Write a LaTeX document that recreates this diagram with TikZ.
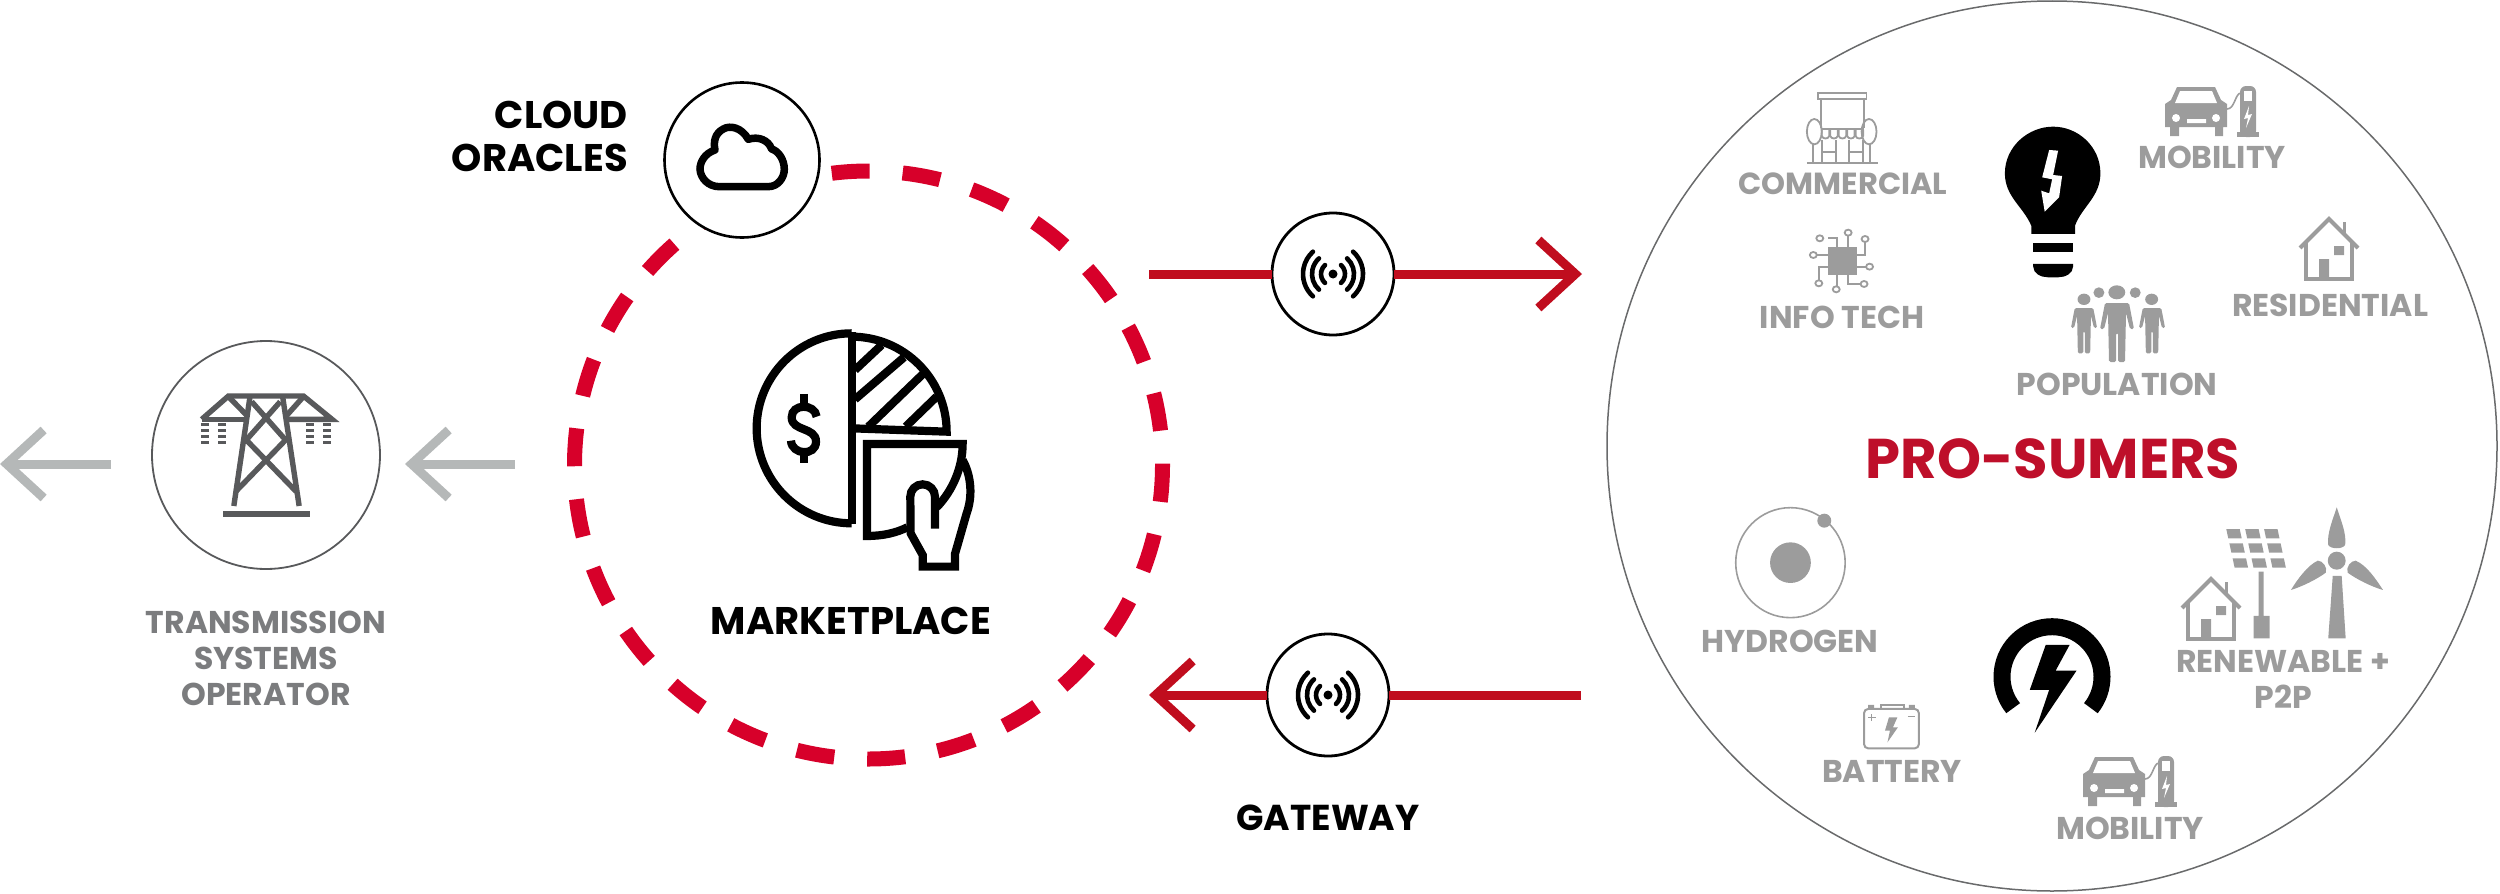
\documentclass[tikz,border=0pt]{standalone}
\usepackage{fontspec}
\setmainfont{Poppins}
\usetikzlibrary{arrows.meta,calc}

\definecolor{ringred}{HTML}{D7002A}
\definecolor{linkred}{HTML}{C00D1E}
\definecolor{sumerred}{HTML}{BE0F2A}
\definecolor{pylongrey}{HTML}{58595B}
\definecolor{arrowgrey}{HTML}{B5B8B8}
\definecolor{labelgrey}{HTML}{7B7C7E}
\definecolor{icongrey}{HTML}{9C9C9C}

\tikzset{
	zoomthree/.style={shift={(1680,60)},xscale=0.4975,yscale=0.3333},
	zoomfour/.style={shift={(1680,490)},xscale=0.4975,yscale=0.3333},
	roundnode/.style={circle,draw,fill=white,inner sep=0pt,outer sep=0pt},
	blacklabel/.style={font=\bfseries\fontsize{38.5}{43}\selectfont,text=black,inner sep=0pt},
	greylabel/.style={font=\bfseries\fontsize{31.5}{36}\selectfont,text=icongrey,inner sep=0pt,align=center},
	redlink/.style={draw=linkred,line width=9pt},
	redtip/.style={redlink,-{Straight Barb[length=37pt,width=68pt,line width=9pt]}},
	greytip/.style={draw=arrowgrey,line width=9pt,-{Straight Barb[length=37pt,width=68pt,line width=9pt]}},
	carcharger/.pic={
		\fill[icongrey] (12,0) -- (50,0) -- (56,13) -- (62,17) -- (62,40) -- (58,40) -- (58,49) -- (50,49) -- (50,40) -- (14,40) -- (14,49) -- (5,49) -- (5,40) -- (0,40) -- (0,17) -- (6,13) -- cycle;
		\fill[white] (15,4) -- (47,4) -- (52,16) -- (10,16) -- cycle;
		\fill[white] (11,31) circle (4) (51,31) circle (4) (22,32) rectangle (41,36);
		\fill[icongrey,rounded corners=6pt] (75,50) -- (75,-1) -- (91,-1) -- (91,50) -- cycle;
		\fill[icongrey] (72,45) rectangle (94,50);
		\fill[white] (79,4) rectangle (87,14);
		\fill[white] (84,19) -- (79,32) -- (83,31) -- (81,41) -- (87,27) -- (83,28) -- cycle;
		\draw[icongrey,line width=1.6pt] (62,22) .. controls (70,22) and (70,6) .. (76,6);
	},
	houseicon/.pic={
		\draw[icongrey,line width=4pt] (-29,31) -- (0,2) -- (29,31);
		\draw[icongrey,line width=4pt] (-23,26) -- (-23,62) -- (23,62) -- (23,26);
		\draw[icongrey,line width=3pt] (15,5) -- (15,18);
		\fill[icongrey] (-10,42) rectangle (0,62) (5,29) rectangle (15,38);
	},
	personicon/.pic={
		\fill[icongrey,rounded corners=1.5pt] (-12,0) -- (12,0) -- (17,26) -- (13,26) -- (9,10) -- (8,59) -- (1,59) -- (1,30) -- (-1,30) -- (-1,59) -- (-8,59) -- (-9,10) -- (-13,26) -- (-17,26) -- cycle;
	},
	waveicon/.pic={
		\fill (0,0) circle (4.5);
		\foreach \r in {12,21,30} {
			\draw[line width=4.6pt,line cap=round] (-48:\r) arc[start angle=-48,end angle=48,radius=\r];
			\draw[line width=4.6pt,line cap=round] (132:\r) arc[start angle=132,end angle=228,radius=\r];
		}
	}
}

\begin{document}
\begin{tikzpicture}[x=1pt,y=-1pt]
	\useasboundingbox (0,0) rectangle (2500,894);

	% marketplace ring, cloud circle sits on top of it
	\node[roundnode,fill=none,draw=ringred,line width=15pt,minimum size=588pt,dash pattern=on 38pt off 33.05pt,dash phase=36.65pt] (market) at (868.5,465) {};
	\node[roundnode,line width=2.6pt,minimum size=155pt] (cloud) at (742,160) {};
	\node[blacklabel,anchor=east,align=right] (cloudlabel) at (628,136.5) {CLOUD\\ORACLES};
	\draw[line width=7.5pt,line join=round,shift={(440,70)},scale=0.3333] (838,350) -- (985,350) .. controls (1015,350) and (1033,322) .. (1033,298) .. controls (1033,268) and (1015,243) .. (995,237) .. controls (985,210) and (955,198) .. (925,208) .. controls (905,172) and (870,165) .. (850,177) .. controls (825,190) and (820,215) .. (825,240) .. controls (795,250) and (780,275) .. (780,298) .. controls (782,325) and (805,350) .. (838,350) -- cycle;

	\node[blacklabel] (marketlabel) at (851,621) {MARKETPLACE};
	% pie and hand
	\begin{scope}[shift={(680,300)},scale=0.3333,line width=8.2pt]
		\draw (515,672) -- (515,97);
		\draw (515,670) arc[start angle=90,end angle=270,radius=285];
		\draw (515,110) arc[start angle=-90,end angle=0,radius=285] -- (515,385);
		\draw (525,210) -- (605,135) (525,298) -- (672,172) (565,380) -- (733,218) (677,380) -- (770,290);
		\draw (372,282) -- (372,310) (372,462) -- (372,490);
		\draw (410,350) .. controls (405,310) and (335,310) .. (335,352) .. controls (335,395) and (408,380) .. (408,425) .. controls (408,470) and (335,465) .. (333,422);
		\draw (682,682) .. controls (650,698) and (610,708) .. (561,708) -- (561,432) -- (848,432) .. controls (848,500) and (820,570) .. (770,622);
		\draw (765,686) -- (765,590) arc[start angle=0,end angle=-180,radius=37] -- (692,700) -- (728,765) -- (728,800) -- (825,800) -- (825,762) -- (860,640) .. controls (878,590) and (875,530) .. (848,480);
	\end{scope}

	% transmission operator side
	\node[roundnode,draw=pylongrey,line width=1.8pt,minimum size=228pt] (tso) at (266,455) {};
	\coordinate (tsooutend) at (111,464);
	\coordinate (tsooutstart) at (0,464);
	\coordinate (tsoinend) at (515,464);
	\coordinate (tsoinstart) at (405,464);
	\draw[greytip] (tsooutend) -- (tsooutstart);
	\draw[greytip] (tsoinend) -- (tsoinstart);
	\begin{scope}[shift={(0,300)},xscale=0.357,yscale=0.3333,draw=pylongrey,line width=5.4pt]
		\draw (565,358) -- (640,288) -- (850,288) -- (930,358) -- (800,358);
		\draw (565,358) -- (695,358);
		\draw (640,290) -- (695,350) (850,290) -- (800,350);
		\draw (700,292) -- (655,618) (792,292) -- (838,618);
		\draw (705,305) -- (800,420) -- (660,575) (785,305) -- (690,420) -- (830,575);
		\fill[pylongrey] (625,633) rectangle (868,650);
		\foreach \x in {563,612,857,906} {
			\foreach \y in {370,388,405,422} {
				\fill[pylongrey] (\x,\y) rectangle ({\x+22},{\y+9});
			}
		}
	\end{scope}
	\node[greylabel,text=labelgrey] (tsolabel) at (266,658) {TRANSMISSION\\SYSTEMS\\OPERATOR};

	% gateways
	\node[roundnode,line width=2.8pt,minimum size=122pt] (gateout) at (1333,274) {};
	\node[roundnode,line width=2.8pt,minimum size=122pt] (gatein) at (1328,695) {};
	\coordinate (outstart) at (1149,274);
	\coordinate (outend) at (1582,274);
	\coordinate (instart) at (1581,695);
	\coordinate (inend) at (1149,695);
	\draw[redlink] (outstart) -- (gateout);
	\draw[redtip] (gateout) -- (outend);
	\draw[redlink] (instart) -- (gatein);
	\draw[redtip] (gatein) -- (inend);
	\pic at (1333,274) {waveicon};
	\pic at (1328,695) {waveicon};
	\node[blacklabel,font=\bfseries\fontsize{36}{40}\selectfont] (gatelabel) at (1328,818) {GATEWAY};

	% pro-sumers
	\node[roundnode,fill=none,draw=pylongrey!90,line width=1.5pt,minimum size=890pt] (sumers) at (2052,446) {};
	\node[inner sep=0pt,font=\bfseries\fontsize{56}{60}\selectfont,text=sumerred] (sumerlabel) at (2053,459) {PRO-SUMERS};

	\begin{scope}[zoomthree]
		% shop
		\begin{scope}[draw=icongrey,line width=1.8pt]
			\draw (277,100) rectangle (375,118);
			\draw (283,118) -- (283,205) (370,118) -- (370,205) (283,208) -- (370,208);
			\foreach \x in {285,302,319,336,353} {
				\draw (\x,210) -- (\x,228) .. controls ({\x+2},238) and ({\x+13},238) .. ({\x+15},228) -- ({\x+15},210);
			}
			\draw (270,215) ellipse [x radius=15,y radius=38] (380,215) ellipse [x radius=15,y radius=38];
			\draw (268,253) -- (268,310) (382,253) -- (382,310) (255,310) -- (397,310);
			\draw (285,240) -- (285,310) (313,240) -- (313,310) (340,240) -- (340,310) (368,240) -- (368,310);
			\draw (285,275) -- (313,275) (340,275) -- (368,275);
		\end{scope}
		% chip
		\fill[icongrey] (298,560) rectangle (355,645);
		\begin{scope}[draw=icongrey,line width=1.8pt]
			\draw (298,535) -- (315,535) -- (315,560) (338,528) -- (338,560) (355,585) -- (372,585) -- (372,547);
			\draw (275,585) -- (298,585) (355,620) -- (374,620) (298,620) -- (280,620) -- (280,660);
			\draw (315,645) -- (315,678) (338,645) -- (338,672) -- (362,672);
			\foreach \p in {(281,535),(338,518),(372,537),(268,585),(381,620),(279,670),(314,688),(370,672)} {
				\draw \p ellipse [x radius=7,y radius=9];
			}
		\end{scope}
		% bulb
		\fill (706,522) -- (706,497) .. controls (690,440) and (653,410) .. (653,340) .. controls (653,260) and (700,200) .. (750,200) .. controls (800,200) and (845,260) .. (845,340) .. controls (845,410) and (808,440) .. (794,497) -- (794,522) -- cycle;
		\fill (710,550) rectangle (790,577);
		\fill (710,612) -- (790,612) -- (790,620) .. controls (790,640) and (775,652) .. (760,652) -- (740,652) .. controls (725,652) and (710,640) .. (710,620) -- cycle;
		\fill[white] (742,270) -- (760,272) -- (750,345) -- (768,348) -- (762,412) -- (733,455) -- (726,392) -- (742,400) -- (748,358) -- (728,352) -- cycle;
		% people
		\fill[icongrey] (878,697) ellipse [x radius=17,y radius=21];
		\fill[icongrey] (812,718) ellipse [x radius=13,y radius=17] (948,718) ellipse [x radius=13,y radius=17];
		\fill[icongrey] (842,698) ellipse [x radius=11,y radius=16] (915,698) ellipse [x radius=11,y radius=16];
	\end{scope}
	\pic at (2117,303) {personicon};
	\pic[scale=0.77] at (2084,308) {personicon};
	\pic[scale=0.77] at (2152,308) {personicon};
	\pic at (2165,87) {carcharger};
	\pic at (2329,217) {houseicon};
	\node[greylabel,font=\bfseries\fontsize{30.5}{36}\selectfont] (commercial) at (1843,184) {COMMERCIAL};
	\node[greylabel] (infotech) at (1842,317) {INFO TECH};
	\node[greylabel] (mobilitytop) at (2212,157) {MOBILITY};
	\node[greylabel] (residential) at (2330,305) {RESIDENTIAL};
	\node[greylabel] (population) at (2117,384) {POPULATION};

	\begin{scope}[zoomfour]
		% hydrogen atom
		\draw[icongrey,line width=1.6pt] (222,218) ellipse [x radius=110,y radius=165];
		\fill[icongrey] (222,218) ellipse [x radius=41,y radius=61];
		\fill[icongrey] (290,92) ellipse [x radius=14,y radius=21];
		% battery
		\draw[icongrey,line width=2pt,rounded corners=4pt] (370,657) rectangle (480,775);
		\fill[icongrey] (378,645) rectangle (390,657) (460,645) rectangle (472,657);
		\draw[icongrey,line width=2pt] (403,657) -- (403,645) -- (450,645) -- (450,657);
		\draw[icongrey,line width=1.6pt] (378,683) -- (393,683) (385,673) -- (385,693) (458,680) -- (473,680);
		\fill[icongrey] (420,682) -- (437,682) -- (428,712) -- (438,712) -- (417,757) -- (422,722) -- (412,722) -- cycle;
		% gauge
		\fill (735,465) -- (783,465) -- (755,542) -- (797,542) -- (713,728) -- (742,600) -- (703,600) -- cycle;
		% solar panel
		\foreach \r in {117,160,205} {
			\foreach \c in {0,38,76} {
				\fill[icongrey] ({1098+\c+(\r-117)*.145},\r) -- ({1125+\c+(\r-117)*.145},\r) -- ({1129+\c+(\r-117)*.145},{\r+28}) -- ({1102+\c+(\r-117)*.145},{\r+28}) -- cycle;
			}
		}
		\fill[icongrey] (1163,245) rectangle (1173,380) (1153,378) rectangle (1185,445);
		% turbine
		\fill[icongrey] (1303,445) -- (1338,445) -- (1330,258) -- (1312,258) -- cycle;
		\fill[icongrey] (1320,212) ellipse [x radius=18,y radius=27];
		\fill[icongrey] (1320,52) .. controls (1312,90) and (1300,130) .. (1303,165) .. controls (1308,178) and (1332,178) .. (1337,165) .. controls (1340,130) and (1328,90) .. (1320,52) -- cycle;
		\fill[icongrey] (1228,300) .. controls (1240,270) and (1262,225) .. (1282,212) .. controls (1292,212) and (1302,232) .. (1298,248) .. controls (1280,268) and (1250,290) .. (1228,300) -- cycle;
		\fill[icongrey] (1413,300) .. controls (1400,270) and (1380,225) .. (1358,212) .. controls (1348,212) and (1338,232) .. (1342,248) .. controls (1360,268) and (1390,290) .. (1413,300) -- cycle;
	\end{scope}
	\draw[line width=17pt] ($(2052,676.7)+(141:50)$) arc[start angle=141,end angle=399,radius=50];
	\pic at (2083,757) {carcharger};
	\pic at (2211,577) {houseicon};
	\node[greylabel] (hydrogen) at (1790,641) {HYDROGEN};
	\node[greylabel] (battery) at (1892,771) {BATTERY};
	\node[greylabel] (mobilitybottom) at (2130,828) {MOBILITY};
	\node[greylabel] (renewable) at (2283,679.5) {RENEWABLE +\\P2P};
\end{tikzpicture}
\end{document}
